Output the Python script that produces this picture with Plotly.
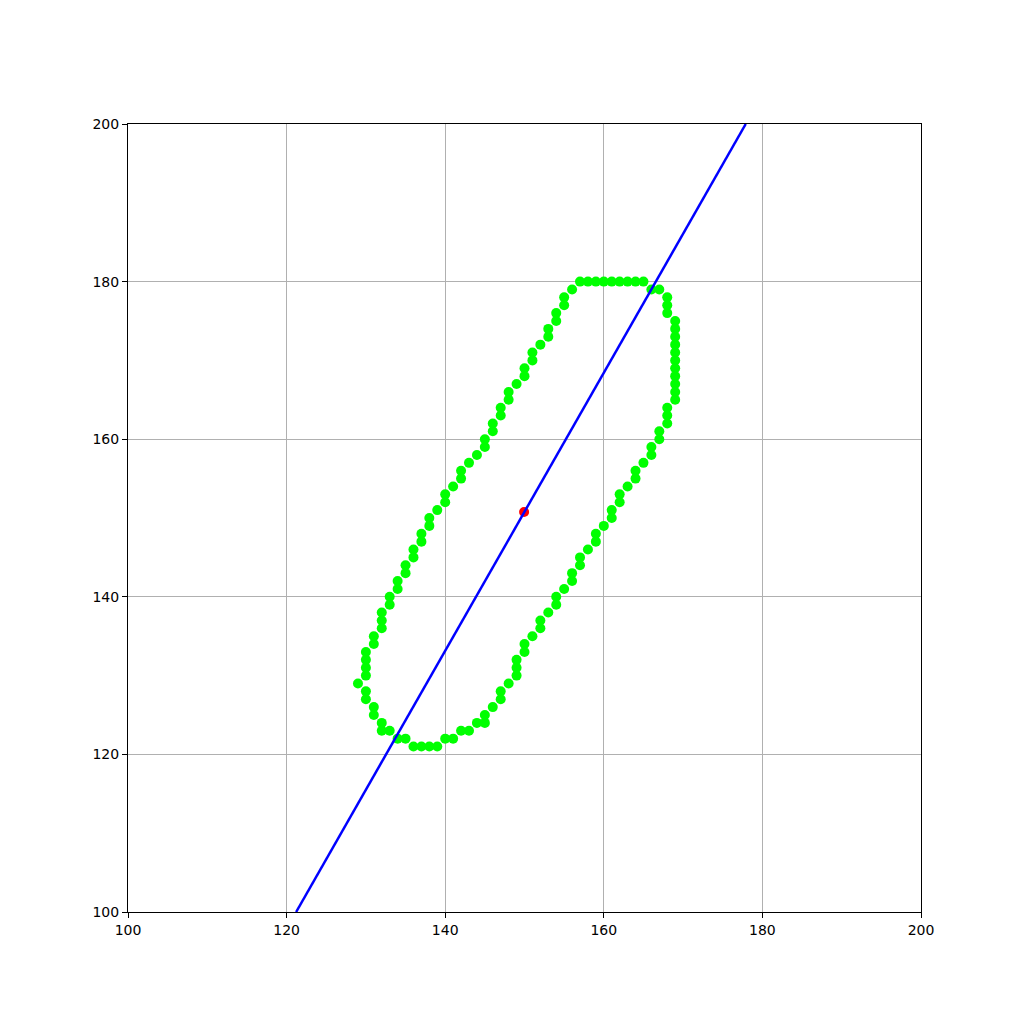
import plotly.graph_objects as go

# contour points (x, y)
contour_x = [157, 158, 159, 160, 161, 162, 163, 164, 165,
             166, 167, 168, 168, 168,
             169, 169, 169, 169, 169, 169, 169, 169, 169, 169, 169,
             168, 168, 168, 167, 167, 166, 166, 165, 164, 164, 163, 162, 162, 161, 161,
             160, 159, 159, 158, 157, 157, 156, 156, 155, 154, 154, 153, 152, 152, 151,
             150, 150, 149, 149, 149, 148, 147, 147, 146, 145, 145, 144, 143, 142, 141, 140,
             139, 138, 137, 136, 135, 134, 133, 132, 132, 131, 131, 130, 130, 129,
             130, 130, 130, 130, 131, 131, 132, 132, 132, 133, 133, 134, 134, 135, 135,
             136, 136, 137, 137, 138, 138, 139, 140, 140, 141, 142, 142, 143, 144, 145, 145,
             146, 146, 147, 147, 148, 148, 149, 150, 150, 151, 151, 152, 153, 153, 154, 154,
             155, 155, 156]
contour_y = [180, 180, 180, 180, 180, 180, 180, 180, 180,
             179, 179, 178, 177, 176,
             175, 174, 173, 172, 171, 170, 169, 168, 167, 166, 165,
             164, 163, 162, 161, 160, 159, 158, 157, 156, 155, 154, 153, 152, 151, 150,
             149, 148, 147, 146, 145, 144, 143, 142, 141, 140, 139, 138, 137, 136, 135,
             134, 133, 132, 131, 130, 129, 128, 127, 126, 125, 124, 124, 123, 123, 122, 122,
             121, 121, 121, 121, 122, 122, 123, 123, 124, 125, 126, 127, 128, 129,
             130, 131, 132, 133, 134, 135, 136, 137, 138, 139, 140, 141, 142, 143, 144,
             145, 146, 147, 148, 149, 150, 151, 152, 153, 154, 155, 156, 157, 158, 159, 160,
             161, 162, 163, 164, 165, 166, 167, 168, 169, 170, 171, 172, 173, 174, 175, 176,
             177, 178, 179]

center_x = [149.95]
center_y = [150.77]

axis_line_x = [121.2, 177.9]
axis_line_y = [100, 200]

ticks = [100, 120, 140, 160, 180, 200]

fig = go.Figure()
fig.add_trace(go.Scatter(x=contour_x, y=contour_y, mode="markers",
                         marker=dict(color="#00ff00", size=10, line=dict(width=0)),
                         showlegend=False))
fig.add_trace(go.Scatter(x=center_x, y=center_y, mode="markers",
                         marker=dict(color="#ff0000", size=10, line=dict(width=0)),
                         showlegend=False))
fig.add_trace(go.Scatter(x=axis_line_x, y=axis_line_y, mode="lines",
                         line=dict(color="#0000ff", width=2.5),
                         showlegend=False))

axis_common = dict(range=[100, 200], tickvals=ticks, ticktext=[str(t) for t in ticks],
                   showgrid=True, gridcolor="#b0b0b0", gridwidth=1.1,
                   showline=True, linecolor="black", linewidth=1.1, mirror=True,
                   ticks="outside", ticklen=5, tickcolor="black", tickwidth=1.1,
                   zeroline=False, tickfont=dict(family="DejaVu Sans", size=14, color="black"))

fig.update_xaxes(**axis_common)
fig.update_yaxes(**axis_common)

fig.update_layout(width=1024, height=1024,
                  margin=dict(l=120, r=111, t=116, b=120, autoexpand=False),
                  plot_bgcolor="white", paper_bgcolor="white")

fig.write_html("out.html")
